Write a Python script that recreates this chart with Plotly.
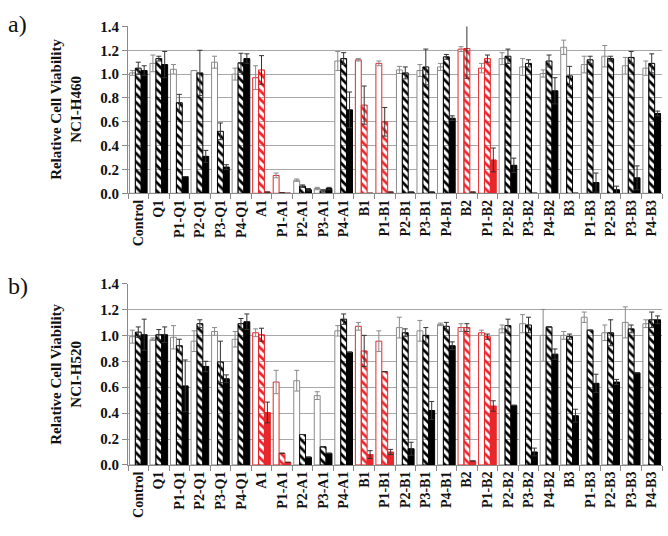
import plotly.graph_objects as go

categories = ["Control", "Q1", "P1-Q1", "P2-Q1", "P3-Q1", "P4-Q1", "A1", "P1-A1", "P2-A1",
              "P3-A1", "P4-A1", "B1", "P1-B1", "P2-B1", "P3-B1", "P4-B1", "B2", "P1-B2",
              "P2-B2", "P3-B2", "P4-B2", "B3", "P1-B3", "P2-B3", "P3-B3", "P4-B3"]
red_categories = ["A1", "P1-A1", "B1", "P1-B1", "B2", "P1-B2"]

# Panel a) NCI-H460
a_open = [1.01, 1.09, 1.04, 1.03, 1.10, 1.00, 0.97, 0.15, 0.11, 0.04, 1.11, 1.12, 1.09, 1.035, 1.03, 1.06,
          1.21, 1.05, 1.13, 1.06, 1.005, 1.225, 1.08, 1.15, 1.07, 1.05]
a_open_err = [0.02, 0.07, 0.04, 0.0, 0.05, 0.05, 0.10, 0.02, 0.01, 0.01, 0.08, 0.01, 0.02, 0.03, 0.05, 0.03,
              0.02, 0.04, 0.05, 0.07, 0.03, 0.06, 0.07, 0.09, 0.07, 0.06]
a_hatch = [1.05, 1.13, 0.76, 1.01, 0.52, 1.095, 1.035, 0.005, 0.06, 0.02, 1.13, 0.74, 0.60, 1.01, 1.06, 1.145,
           1.215, 1.13, 1.15, 1.09, 1.11, 0.985, 1.12, 1.13, 1.14, 1.09]
a_hatch_err = [0.05, 0.02, 0.07, 0.19, 0.07, 0.08, 0.12, 0.0, 0.01, 0.01, 0.05, 0.16, 0.12, 0.05, 0.15, 0.02,
               0.25, 0.03, 0.06, 0.03, 0.05, 0.08, 0.03, 0.02, 0.05, 0.08]
a_solid = [1.03, 1.08, 0.14, 0.31, 0.22, 1.13, 0.01, 0.0, 0.03, 0.04, 0.70, 0.0, 0.01, 0.01, 0.01, 0.63,
           0.01, 0.28, 0.235, 0.0, 0.86, 0.0, 0.09, 0.03, 0.13, 0.67]
a_solid_err = [0.04, 0.11, 0.0, 0.05, 0.02, 0.04, 0.0, 0.0, 0.01, 0.01, 0.15, 0.0, 0.0, 0.0, 0.0, 0.02,
               0.0, 0.10, 0.06, 0.0, 0.11, 0.0, 0.08, 0.03, 0.10, 0.02]

# Panel b) NCI-H520
b_open = [0.99, 0.97, 0.985, 0.955, 1.03, 0.97, 1.02, 0.64, 0.65, 0.535, 1.035, 1.07, 0.955, 1.06, 1.035, 1.085,
          1.06, 1.02, 1.05, 1.09, 1.00, 1.00, 1.14, 1.02, 1.10, 1.09]
b_open_err = [0.05, 0.01, 0.09, 0.08, 0.03, 0.06, 0.03, 0.09, 0.08, 0.03, 0.04, 0.03, 0.08, 0.08, 0.08, 0.01,
              0.03, 0.02, 0.03, 0.07, 0.20, 0.03, 0.04, 0.06, 0.12, 0.03]
b_hatch = [1.025, 1.005, 0.92, 1.09, 0.795, 1.09, 1.005, 0.09, 0.235, 0.14, 1.125, 0.88, 0.72, 1.02, 1.00, 1.07,
           1.06, 0.99, 1.075, 1.08, 1.065, 0.99, 1.04, 1.02, 1.05, 1.12]
b_hatch_err = [0.04, 0.04, 0.05, 0.03, 0.16, 0.04, 0.05, 0.0, 0.0, 0.0, 0.04, 0.12, 0.0, 0.03, 0.06, 0.03,
               0.03, 0.02, 0.05, 0.06, 0.0, 0.02, 0.0, 0.10, 0.03, 0.06]
b_solid = [1.005, 1.005, 0.61, 0.76, 0.665, 1.105, 0.405, 0.02, 0.06, 0.09, 0.87, 0.08, 0.10, 0.125, 0.42, 0.92,
           0.03, 0.455, 0.46, 0.10, 0.855, 0.38, 0.63, 0.64, 0.71, 1.12]
b_solid_err = [0.12, 0.06, 0.20, 0.04, 0.03, 0.06, 0.08, 0.0, 0.0, 0.0, 0.0, 0.03, 0.02, 0.05, 0.07, 0.03,
               0.0, 0.04, 0.0, 0.03, 0.04, 0.05, 0.07, 0.02, 0.0, 0.03]

y_ticks = [0.0, 0.2, 0.4, 0.6, 0.8, 1.0, 1.2, 1.4]
y_titles = ["Relative Cell Viability<br>NCI-H460", "Relative Cell Viability<br>NCI-H520"]
panel_labels = ["a)", "b)"]

RED = "#e8262b"
GRAY = "#8a8a8a"
SERIF = "Liberation Serif"

is_red = [c in red_categories for c in categories]

fig = go.Figure()

panels = [(a_open, a_open_err, a_hatch, a_hatch_err, a_solid, a_solid_err),
          (b_open, b_open_err, b_hatch, b_hatch_err, b_solid, b_solid_err)]

for i, (op, ope, ha, hae, so, soe) in enumerate(panels):
    xa = "x" if i == 0 else "x2"
    ya = "y" if i == 0 else "y2"
    fig.add_trace(go.Bar(
        x=categories, y=op, xaxis=xa, yaxis=ya, showlegend=False,
        marker=dict(color="white",
                    line=dict(color=[RED if r else GRAY for r in is_red], width=1)),
        error_y=dict(type="data", array=ope, color=GRAY, thickness=1, width=2.5),
    ))
    fig.add_trace(go.Bar(
        x=categories, y=ha, xaxis=xa, yaxis=ya, showlegend=False,
        marker=dict(color=[RED if r else "black" for r in is_red],
                    line=dict(color=[RED if r else "black" for r in is_red], width=1),
                    pattern=dict(shape="\\", fgcolor="white",
                                 bgcolor=[RED if r else "black" for r in is_red],
                                 fillmode="replace", size=6, solidity=0.45)),
        error_y=dict(type="data", array=hae, color="#333333", thickness=1, width=2.5),
    ))
    fig.add_trace(go.Bar(
        x=categories, y=so, xaxis=xa, yaxis=ya, showlegend=False,
        marker=dict(color=[RED if r else "black" for r in is_red],
                    line=dict(color=[RED if r else "black" for r in is_red], width=1)),
        error_y=dict(type="data", array=soe, color="#333333", thickness=1, width=2.5),
    ))

x_dom = [128 / 668, 662 / 668]
y_doms = [[1 - 191 / 536, 1 - 19 / 536], [1 - 471 / 536, 1 - 284 / 536]]

axis_common_x = dict(
    type="category", showline=True, linecolor=GRAY, linewidth=1,
    ticks="outside", tickson="boundaries", ticklen=5, tickcolor=GRAY,
    tickangle=-90, tickfont=dict(family=SERIF, size=14, color="#111111", weight="bold"),
    showgrid=False, domain=x_dom,
)
axis_common_y = dict(
    range=[0, 1.4], tickvals=y_ticks, ticktext=[f"{v:.1f}" for v in y_ticks],
    showline=True, linecolor=GRAY, linewidth=1, ticks="outside", ticklen=5, tickcolor=GRAY,
    showgrid=True, gridcolor="#a8a8a8", gridwidth=1, zeroline=False,
    tickfont=dict(family=SERIF, size=15, color="#111111", weight="bold"),
)

fig.update_layout(
    width=668, height=536, margin=dict(l=0, r=0, t=0, b=0),
    plot_bgcolor="white", paper_bgcolor="white",
    barmode="group", bargap=0.14, bargroupgap=0.0,
    xaxis=dict(**axis_common_x, anchor="y"),
    xaxis2=dict(**axis_common_x, anchor="y2"),
    yaxis=dict(**axis_common_y, domain=y_doms[0], anchor="x"),
    yaxis2=dict(**axis_common_y, domain=y_doms[1], anchor="x2"),
)

title_y = [105, 378]
label_y = [17, 287]
for i in range(2):
    fig.add_annotation(
        text="<b>" + y_titles[i] + "</b>", xref="paper", yref="paper",
        x=66 / 668, y=1 - title_y[i] / 536, textangle=-90, showarrow=False,
        font=dict(family=SERIF, size=15, color="#111111"), xanchor="center", yanchor="middle",
    )
    fig.add_annotation(
        text=panel_labels[i], xref="paper", yref="paper",
        x=6 / 668, y=1 - label_y[i] / 536, showarrow=False,
        font=dict(family=SERIF, size=24, color="#111111"), xanchor="left", yanchor="middle",
    )

fig.write_html("out.html", config={"displayModeBar": False},
               post_script="document.body.style.margin='0';document.body.style.overflow='hidden';")
